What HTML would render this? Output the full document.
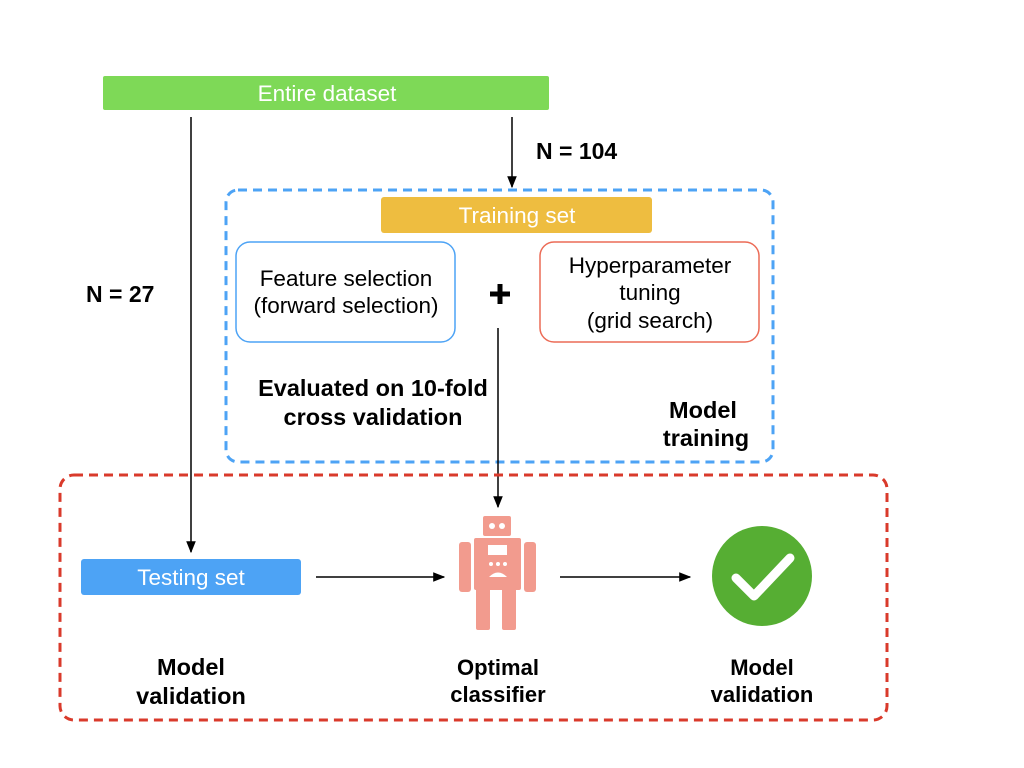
<!DOCTYPE html>
<html><head><meta charset="utf-8"><style>
body{margin:0;width:1024px;height:768px;background:#fff;overflow:hidden}
svg{display:block}
text{font-family:"Liberation Sans",sans-serif}
</style></head><body>
<svg width="1024" height="768" viewBox="0 0 1024 768">
<defs><marker id="a" viewBox="0 0 10 10" refX="9" refY="5" markerWidth="8" markerHeight="8" orient="auto"><path d="M0,1 L10,5 L0,9z" fill="#000"/></marker></defs>
<rect x="103" y="76" width="446" height="34" rx="2" fill="#7ed957"/>
<text x="327" y="101" font-size="22.5" fill="#fff" text-anchor="middle">Entire dataset</text>
<line x1="191" y1="117" x2="191" y2="552" stroke="#000" stroke-width="1.5" marker-end="url(#a)"/>
<line x1="512" y1="117" x2="512" y2="187" stroke="#000" stroke-width="1.5" marker-end="url(#a)"/>
<text x="536" y="159" font-size="23" font-weight="bold">N = 104</text>
<text x="86" y="302" font-size="23" font-weight="bold">N = 27</text>
<rect x="226" y="190" width="547" height="272" rx="12" fill="none" stroke="#4da3f5" stroke-width="3" stroke-dasharray="9,6"/>
<rect x="381" y="197" width="271" height="36" rx="3" fill="#eebd40"/>
<text x="517" y="223" font-size="22.5" fill="#fff" text-anchor="middle">Training set</text>
<rect x="236" y="242" width="219" height="100" rx="14" fill="#fff" stroke="#4da3f5" stroke-width="1.5"/>
<text x="346" y="286" font-size="22.5" text-anchor="middle">Feature selection</text>
<text x="346" y="313" font-size="22.5" text-anchor="middle">(forward selection)</text>
<rect x="540" y="242" width="219" height="100" rx="14" fill="#fff" stroke="#ec6b56" stroke-width="1.5"/>
<text x="650" y="273" font-size="22.5" text-anchor="middle">Hyperparameter</text>
<text x="650" y="300" font-size="22.5" text-anchor="middle">tuning</text>
<text x="650" y="328" font-size="22.5" text-anchor="middle">(grid search)</text>
<path d="M500,284 V304 M490,294 H510" stroke="#000" stroke-width="5"/>
<line x1="498" y1="328" x2="498" y2="507" stroke="#000" stroke-width="1.5" marker-end="url(#a)"/>
<text x="373" y="396" font-size="23.5" font-weight="bold" text-anchor="middle">Evaluated on 10-fold</text>
<text x="373" y="425" font-size="23.5" font-weight="bold" text-anchor="middle">cross validation</text>
<text x="703" y="418" font-size="23.5" font-weight="bold" text-anchor="middle">Model</text>
<text x="706" y="446" font-size="23.5" font-weight="bold" text-anchor="middle">training</text>
<rect x="60" y="475" width="827" height="245" rx="14" fill="none" stroke="#d93a2b" stroke-width="3" stroke-dasharray="9,6"/>
<rect x="81" y="559" width="220" height="36" rx="3" fill="#4da3f5"/>
<text x="191" y="585" font-size="22.5" fill="#fff" text-anchor="middle">Testing set</text>
<line x1="316" y1="577" x2="444" y2="577" stroke="#000" stroke-width="1.5" marker-end="url(#a)"/>
<line x1="560" y1="577" x2="690" y2="577" stroke="#000" stroke-width="1.5" marker-end="url(#a)"/>
<g fill="#f29b8e">
<rect x="483" y="516" width="28" height="20" rx="2"/>
<rect x="474" y="538" width="47" height="52" rx="2"/>
<rect x="459" y="542" width="12" height="50" rx="3"/>
<rect x="524" y="542" width="12" height="50" rx="3"/>
<rect x="476" y="588" width="14" height="42" rx="2"/>
<rect x="502" y="588" width="14" height="42" rx="2"/>
</g>
<g fill="#fff"><circle cx="492" cy="526" r="3"/><circle cx="502" cy="526" r="3"/><rect x="488" y="545" width="19" height="10"/><circle cx="491" cy="564" r="2"/><circle cx="498" cy="564" r="2"/><circle cx="505" cy="564" r="2"/><path d="M489,577 Q498,568 507,577 Z"/></g>
<circle cx="762" cy="576" r="50" fill="#56ae33"/>
<path d="M736,578 L754,596 L790,558" fill="none" stroke="#fff" stroke-width="9" stroke-linecap="round" stroke-linejoin="round"/>
<text x="191" y="675" font-size="23.5" font-weight="bold" text-anchor="middle">Model</text>
<text x="191" y="704" font-size="23.5" font-weight="bold" text-anchor="middle">validation</text>
<text x="498" y="675" font-size="22" font-weight="bold" text-anchor="middle">Optimal</text>
<text x="498" y="702" font-size="22" font-weight="bold" text-anchor="middle">classifier</text>
<text x="762" y="675" font-size="22" font-weight="bold" text-anchor="middle">Model</text>
<text x="762" y="702" font-size="22" font-weight="bold" text-anchor="middle">validation</text>
</svg>
</body></html>
